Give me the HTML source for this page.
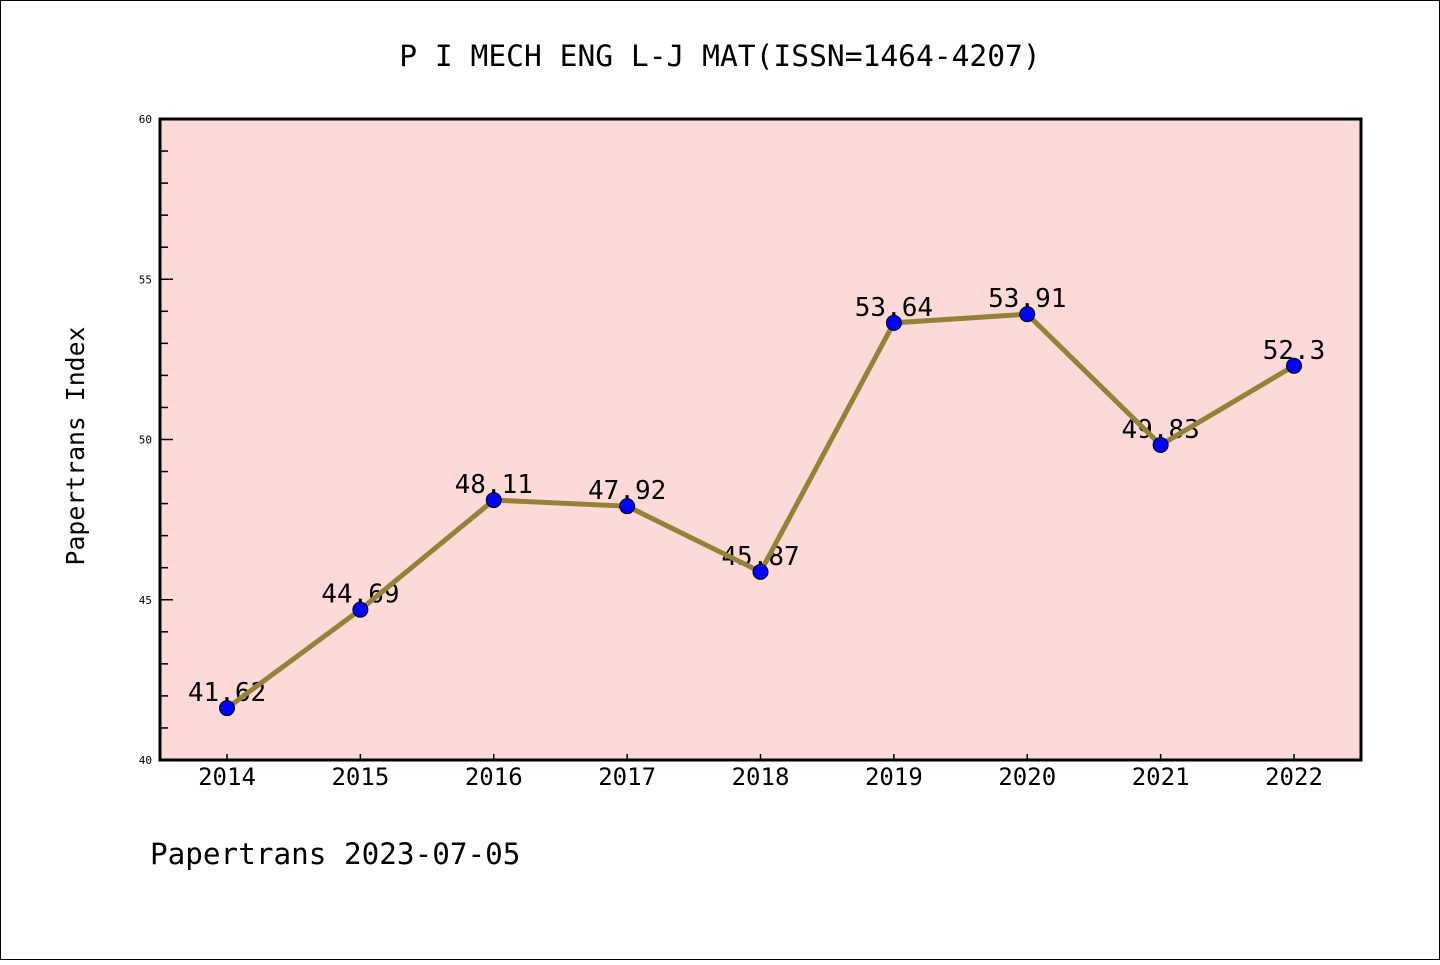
<!DOCTYPE html>
<html><head><meta charset="utf-8"><style>
body{margin:0;background:#fff;}
svg text{font-family:"DejaVu Sans Mono","Liberation Mono",monospace;}
</style></head><body>
<svg width="1440" height="960" xmlns="http://www.w3.org/2000/svg">
<rect x="0.5" y="0.5" width="1439" height="959" fill="#fff" stroke="#000"/>
<text x="720" y="66" text-anchor="middle" font-size="29.6">P I MECH ENG L-J MAT(ISSN=1464-4207)</text>
<rect x="160" y="119" width="1201" height="641" fill="#fddad7"/>
<g id="axes"></g>
<g id="marks"></g>
<rect x="160" y="119" width="1201" height="641" fill="none" stroke="#000" stroke-width="3"/>
<text transform="translate(84,446) rotate(-90)" text-anchor="middle" font-size="24.8">Papertrans Index</text>
<text x="150" y="864" font-size="29.3">Papertrans 2023-07-05</text>
</svg>
<script>
const years=["2014","2015","2016","2017","2018","2019","2020","2021","2022"];
const values=[41.62,44.69,48.11,47.92,45.87,53.64,53.91,49.83,52.3];
const labels=["41.62","44.69","48.11","47.92","45.87","53.64","53.91","49.83","52.3"];
const yTicks=[40,45,50,55,60];
const NS="http://www.w3.org/2000/svg";
const L=160,R=1361,T=119,B=760,yMin=40,yMax=60;
const x=i=>227+i*(1294-227)/(years.length-1);
const y=v=>B-(v-yMin)/(yMax-yMin)*(B-T);
function mk(tag,attrs,parent){const e=document.createElementNS(NS,tag);for(const k in attrs)e.setAttribute(k,attrs[k]);parent.appendChild(e);return e;}
const ax=document.getElementById('axes'),mg=document.getElementById('marks');
for(let v=yMin;v<=yMax;v++){
  const major=yTicks.includes(v);
  const t=mk('line',{x1:L,x2:L+(major?13:8),y1:y(v),y2:y(v),stroke:'#000','stroke-width':1.5},ax);
  
  
}
yTicks.forEach(v=>{
  const t=mk('text',{x:152,y:y(v)+4,'text-anchor':'end','font-size':11},ax);t.textContent=v;
  
  
});
years.forEach((yr,i)=>{
  const t=mk('line',{x1:x(i),x2:x(i),y1:B,y2:B-6,stroke:'#000','stroke-width':1.5},ax);
  
  
  const l=mk('text',{x:x(i),y:785,'text-anchor':'middle','font-size':24},ax);l.textContent=yr;
  
  
});
values.forEach((v,i)=>{
  const t=mk('text',{x:x(i),y:y(v)-7,'text-anchor':'middle','font-size':26},mg);t.textContent=labels[i];
  
  
});
const line=mk('polyline',{points:values.map((v,i)=>x(i)+','+y(v)).join(' '),fill:'none',stroke:'#948238','stroke-width':5},mg);


values.forEach((v,i)=>{
  const c=mk('circle',{cx:x(i),cy:y(v),r:7.5,fill:'#0000ff',stroke:'#000','stroke-width':1},mg);
  
  
});
</script>
</body></html>
